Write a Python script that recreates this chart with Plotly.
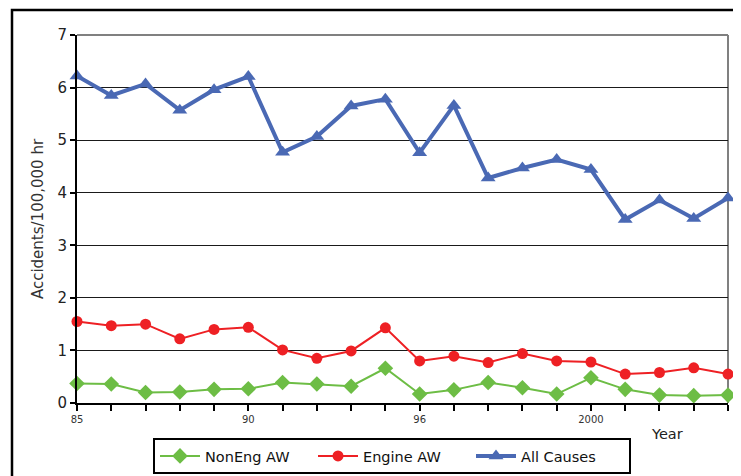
import plotly.graph_objects as go

years = list(range(1985, 2005))
tick_labels = ["85", "", "", "", "", "90", "", "", "", "", "96", "", "", "", "", "2000", "", "", "", ""]

noneng_aw = [0.37, 0.36, 0.20, 0.21, 0.26, 0.27, 0.39, 0.36, 0.32, 0.66,
             0.17, 0.25, 0.39, 0.29, 0.17, 0.48, 0.26, 0.15, 0.14, 0.15]
engine_aw = [1.55, 1.47, 1.50, 1.22, 1.40, 1.44, 1.01, 0.85, 0.99, 1.43,
             0.80, 0.89, 0.77, 0.94, 0.80, 0.78, 0.55, 0.58, 0.67, 0.55]
all_causes = [6.22, 5.85, 6.07, 5.57, 5.96, 6.21, 4.77, 5.07, 5.65, 5.78,
              4.76, 5.66, 4.28, 4.47, 4.63, 4.44, 3.49, 3.86, 3.51, 3.90]

FONT = "DejaVu Sans"
GREEN = "#6dbd45"
RED = "#ee2024"
BLUE = "#4a69b4"

fig = go.Figure()
fig.add_trace(go.Scatter(
    x=years, y=noneng_aw, name="NonEng AW", mode="lines+markers",
    line=dict(color=GREEN, width=2),
    marker=dict(symbol="diamond", size=12, color=GREEN),
    cliponaxis=False))
fig.add_trace(go.Scatter(
    x=years, y=engine_aw, name="Engine AW", mode="lines+markers",
    line=dict(color=RED, width=2),
    marker=dict(symbol="circle", size=11, color=RED),
    cliponaxis=False))
fig.add_trace(go.Scatter(
    x=years, y=all_causes, name="All Causes", mode="lines+markers",
    line=dict(color=BLUE, width=4),
    marker=dict(symbol="triangle-up", size=13, color=BLUE),
    cliponaxis=False))

# page body has an 8px margin; work in page pixels and convert
OFF = 8
W, H = 741 - OFF, 476 - OFF
PL, PR, PT, PB = 77, 728, 35, 403  # plot area in page pixels
L = PL - OFF
T = PT - OFF
R = W - (PR - OFF)
B = H - (PB - OFF)
pw = PR - PL
ph = PB - PT

def px_x(p):
    return (p - PL) / pw

def px_y(p):
    return (PB - p) / ph

fig.update_layout(
    width=W, height=H,
    margin=dict(l=L, r=R, t=T, b=B, autoexpand=False),
    paper_bgcolor="white", plot_bgcolor="white",
    font=dict(family=FONT, color="#222222"),
    showlegend=True,
    legend=dict(
        orientation="h",
        xref="container", yref="container",
        x=(153 - OFF) / W, xanchor="left",
        y=(H - (438 - OFF)) / H, yanchor="top",
        bordercolor="black", borderwidth=2,
        font=dict(size=14.5, family=FONT, color="#111111"),
        itemwidth=40,
        entrywidth=103,
        tracegroupgap=0,
    ),
    xaxis=dict(
        range=[years[0], years[-1]],
        tickmode="array", tickvals=years, ticktext=tick_labels,
        ticks="outside", ticklen=6, tickcolor="black", tickwidth=1.5,
        tickfont=dict(size=10, family=FONT, color="#333333"),
        showgrid=False, zeroline=False,
        showline=True, linecolor="black", linewidth=2,
    ),
    yaxis=dict(
        range=[0, 7],
        tickmode="array", tickvals=list(range(0, 8)),
        ticks="outside", ticklen=5, tickcolor="black", tickwidth=1.5,
        tickfont=dict(size=15, family=FONT, color="#222222"),
        showgrid=True, gridcolor="#1a1a1a", gridwidth=1.2,
        zeroline=False,
        showline=True, linecolor="black", linewidth=2,
        title=dict(text="Accidents/100,000 hr", font=dict(size=15, family=FONT, color="#333333"), standoff=10),
    ),
    shapes=[
        dict(type="line", xref="paper", yref="paper", x0=0, x1=1, y0=1, y1=1,
             line=dict(color="#808080", width=2), layer="above"),
        dict(type="line", xref="paper", yref="paper", x0=1, x1=1, y0=0, y1=1,
             line=dict(color="#808080", width=2), layer="below"),
        dict(type="rect", xref="paper", yref="paper",
             x0=px_x(12), x1=px_x(770), y0=px_y(500), y1=px_y(10),
             line=dict(color="black", width=2.5), layer="below"),
    ],
    annotations=[
        dict(text="Year", xref="paper", yref="paper", x=px_x(667), y=px_y(434),
             xanchor="center", yanchor="middle", showarrow=False,
             font=dict(size=14.5, family=FONT, color="#222222")),
    ],
)

fig.write_html("out.html")
